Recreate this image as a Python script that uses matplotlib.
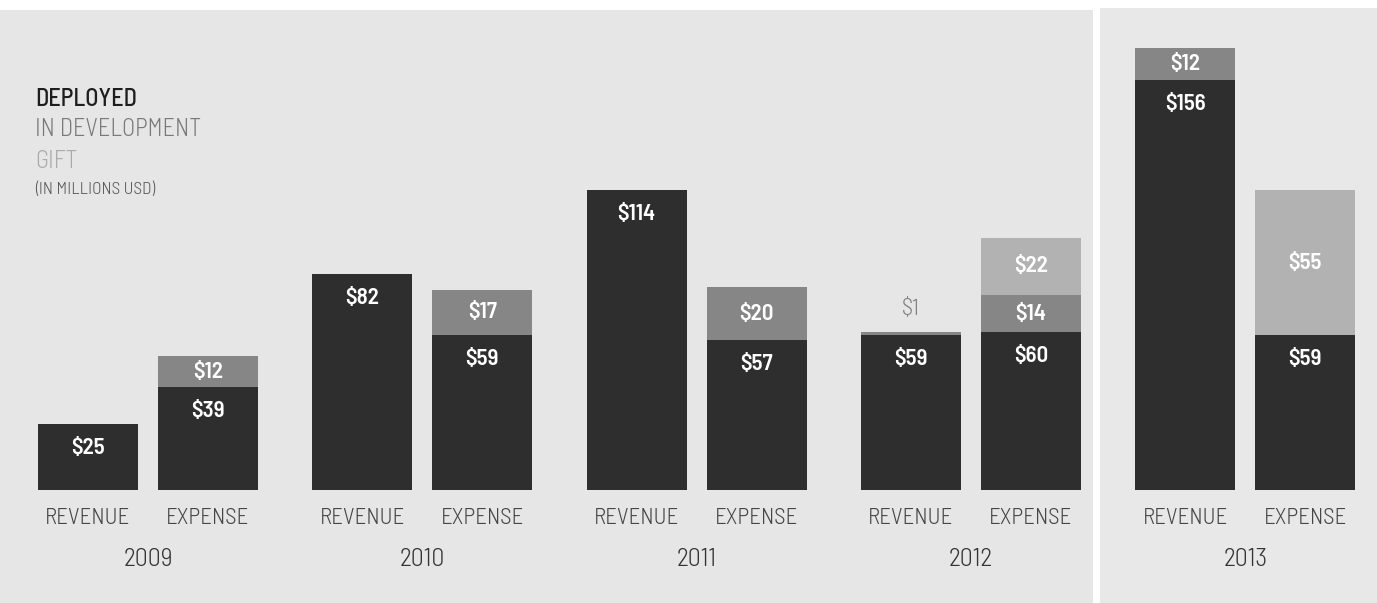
import numpy as np
import matplotlib.pyplot as plt
from matplotlib.patches import Rectangle

years = ['2009', '2010', '2011', '2012', '2013']
kinds = ['REVENUE', 'EXPENSE']

# millions USD, per year: (revenue, expense)
deployed = [(25, 39), (82, 59), (114, 57), (59, 60), (156, 59)]
in_development = [(0, 12), (0, 17), (0, 20), (1, 14), (12, 0)]
gift = [(0, 0), (0, 0), (0, 0), (0, 22), (0, 55)]

legend_items = ['DEPLOYED', 'IN DEVELOPMENT', 'GIFT']
colors = ['#2e2e2e', '#868686', '#b2b2b2']
legend_text_colors = ['#1e1e1e', '#7a7a7a', '#ababab']

W, H = 1377, 603
PX_PER_M = 2.63          # pixels per million
BASE = 490               # baseline, pixels from the top
GROUP = 274.3            # pixels between year groups
X0 = 148                 # first group centre, pixels

font = ['Barlow Semi Condensed', 'DejaVu Sans']

fig = plt.figure(figsize=(W / 100, H / 100), dpi=100)
fig.patch.set_facecolor('white')

# paper-coloured panels with thin white gaps
fig.patches.append(Rectangle((0, 0), 1093 / W, 1 - 10 / H, transform=fig.transFigure,
                             facecolor='#e6e6e6', edgecolor='none', zorder=-1))
fig.patches.append(Rectangle((1100 / W, 0), 1, 1 - 8 / H, transform=fig.transFigure,
                             facecolor='#e8e8e8', edgecolor='none', zorder=-1))

ax = fig.add_axes([0, 0, 1, 1])
ax.set_facecolor('none')
ax.set_xlim(-X0 / GROUP, (W - X0) / GROUP)
ax.set_ylim(-(H - BASE) / PX_PER_M, BASE / PX_PER_M)
ax.axis('off')


def py(p):
    """pixel row (from top) -> data y"""
    return (BASE - p) / PX_PER_M


offset = 60 / GROUP
width = 100 / GROUP

for i, yr in enumerate(years):
    for j, kind in enumerate(kinds):
        x = i + (offset if j else -offset)
        segs = [deployed[i][j], in_development[i][j], gift[i][j]]
        bottom = 0
        for k, v in enumerate(segs):
            if v == 0:
                continue
            ax.bar(x, v, width=width, bottom=bottom, color=colors[k],
                   edgecolor='none', zorder=2)
            top = bottom + v
            label = f'${v}'
            if v < 5:
                # too thin to hold its own label: put it above the bar
                ax.text(x, top + 23 / PX_PER_M, label, ha='center', va='center',
                        color='#7e7e7e', fontsize=16.5, fontweight=300, family=font)
            elif k == 0:
                ax.text(x, top - 24 / PX_PER_M, label, ha='center', va='center',
                        color='white', fontsize=16.5, fontweight=600, family=font)
            else:
                ax.text(x, bottom + v / 2, label, ha='center', va='center',
                        color='white', fontsize=16.5, fontweight=600, family=font)
            bottom = top
        ax.text(x, py(518), kind, ha='center', va='center', color='#454545',
                fontsize=16.5, fontweight=300, family=font)
    ax.text(i, py(560), yr, ha='center', va='center', color='#333333',
            fontsize=18.5, fontweight=300, family=font)

# legend block, top left
for k, (name, c) in enumerate(zip(legend_items, legend_text_colors)):
    fig.text(35 / W, 1 - (99 + 31 * k) / H, name, ha='left', va='center',
             color=c, fontsize=17.5, family=font,
             fontweight=500 if k == 0 else 300)
fig.text(35 / W, 1 - 190 / H, '(IN MILLIONS USD)', ha='left', va='center',
         color='#555555', fontsize=12.5, fontweight=300, family=font)

fig.savefig('out.png', dpi=100, facecolor=fig.get_facecolor())
